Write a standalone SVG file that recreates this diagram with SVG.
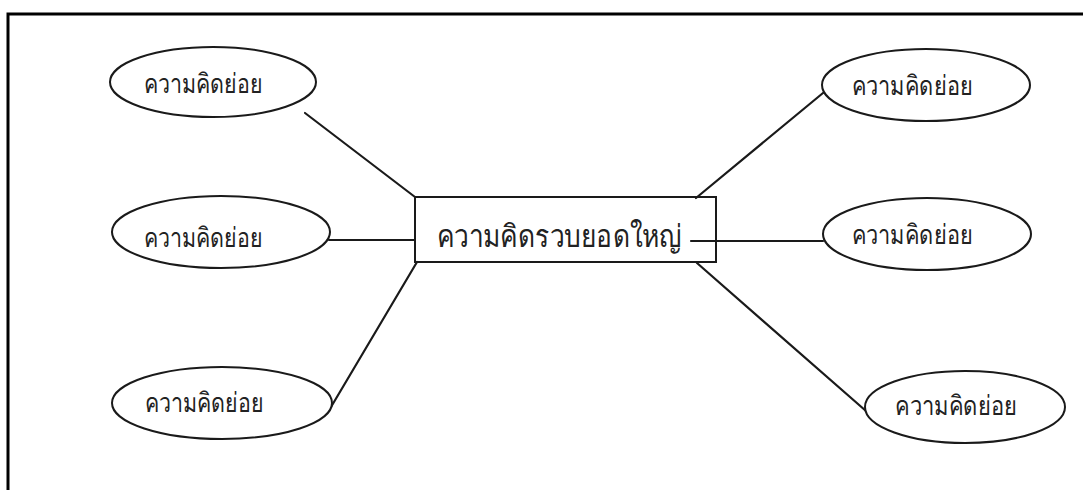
<svg xmlns="http://www.w3.org/2000/svg" width="1083" height="490" viewBox="0 0 1083 490">
<style>
.bg{fill:#ffffff}
.frame{fill:none;stroke:#000;stroke-width:3}
.node{fill:#fff;stroke:#1a1a1a;stroke-width:2}
.box{fill:none;stroke:#1a1a1a;stroke-width:2}
.conn line{stroke:#1a1a1a;stroke-width:2.2;stroke-linecap:round}
.lbl{font-family:"Noto Sans","DejaVu Sans","Liberation Sans",sans-serif;font-size:27px;fill:#222;text-anchor:middle}
.main{font-size:31px}
</style>
<rect class="bg" x="0" y="0" width="1083" height="490"/>
<path class="frame" d="M8,491 V14 H1084"/>
<g id="connectors" class="conn">
<line x1="305" y1="113" x2="415" y2="197"/>
<line x1="329" y1="240" x2="415" y2="240"/>
<line x1="331" y1="407" x2="417" y2="262"/>
<line x1="696" y1="198" x2="823" y2="93"/>
<line x1="691" y1="241" x2="823" y2="241"/>
<line x1="697" y1="263" x2="866" y2="411"/>
</g>
<g id="center">
<rect class="box" x="415" y="197" width="301" height="65"/>
<text class="lbl main" x="559" y="247" textLength="245" lengthAdjust="spacingAndGlyphs">ความคิดรวบยอดใหญ่</text>
</g>
<g id="sub-top-left">
<ellipse class="node" cx="213" cy="82" rx="103" ry="35"/>
<text class="lbl" x="203" y="93" textLength="119" lengthAdjust="spacingAndGlyphs">ความคิดย่อย</text>
</g>
<g id="sub-mid-left">
<ellipse class="node" cx="221" cy="232" rx="109" ry="36"/>
<text class="lbl" x="203" y="247" textLength="119" lengthAdjust="spacingAndGlyphs">ความคิดย่อย</text>
</g>
<g id="sub-bottom-left">
<ellipse class="node" cx="222" cy="403" rx="110" ry="36"/>
<text class="lbl" x="204" y="412" textLength="119" lengthAdjust="spacingAndGlyphs">ความคิดย่อย</text>
</g>
<g id="sub-top-right">
<ellipse class="node" cx="926" cy="85" rx="104" ry="36"/>
<text class="lbl" x="912" y="95" textLength="121" lengthAdjust="spacingAndGlyphs">ความคิดย่อย</text>
</g>
<g id="sub-mid-right">
<ellipse class="node" cx="927" cy="234" rx="104" ry="36"/>
<text class="lbl" x="912" y="244" textLength="121" lengthAdjust="spacingAndGlyphs">ความคิดย่อย</text>
</g>
<g id="sub-bottom-right">
<ellipse class="node" cx="965" cy="407" rx="100" ry="36"/>
<text class="lbl" x="956" y="415" textLength="122" lengthAdjust="spacingAndGlyphs">ความคิดย่อย</text>
</g>
</svg>
